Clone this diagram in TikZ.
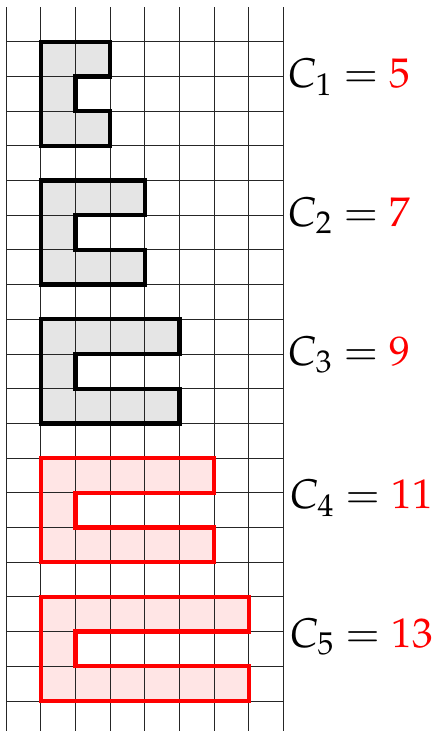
\documentclass[tikz,border=0pt]{standalone}
\usepackage{mathpazo}
\tikzset{
  gridline/.style={line width=0.8pt, black!85},
  blackline/.style={line width=3.5pt, black},
  redline/.style={line width=3.5pt, red},
  lbl/.style={anchor=base west, inner sep=0pt, font=\fontsize{34}{40}\selectfont},
}
% #1 = options, #2 = top y, #3 = width
\newcommand{\cpath}[3]{%
  (1,#2) -- ++(#3,0) -- ++(0,-1) -- (2,#2-1) -- (2,#2-2) -- ++(#3-1,0) -- ++(0,-1) -- (1,#2-3) -- cycle
}
\begin{document}
\begin{tikzpicture}[x=1cm,y=1cm]
\useasboundingbox (-0.173,0.202) rectangle (12.45,-20.865);
% fills
\fill[black!10] \cpath{}{-1}{2};
\fill[black!10] \cpath{}{-5}{3};
\fill[black!10] \cpath{}{-9}{4};
\fill[red!10] \cpath{}{-13}{5};
\fill[red!10] \cpath{}{-17}{6};
% grid
\foreach \i in {0,...,8} \draw[gridline] (\i,0) -- (\i,-20.865);
\foreach \j in {1,...,20} \draw[gridline] (0,-\j) -- (8,-\j);
% outlines
\draw[blackline] \cpath{}{-1}{2};
\draw[blackline] \cpath{}{-5}{3};
\draw[blackline] \cpath{}{-9}{4};
\draw[redline] \cpath{}{-13}{5};
\draw[redline] \cpath{}{-17}{6};
% labels
\node[lbl] (l1) at (8.13,-2.32) {$C_1 = {\color{red}5}$};
\node[lbl] (l2) at (8.13,-6.32) {$C_2 = {\color{red}7}$};
\node[lbl] (l3) at (8.13,-10.32) {$C_3 = {\color{red}9}$};
\node[lbl] (l4) at (8.18,-14.45) {$C_4 = {\color{red}11}$};
\node[lbl] (l5) at (8.18,-18.45) {$C_5 = {\color{red}13}$};
\end{tikzpicture}
\end{document}
